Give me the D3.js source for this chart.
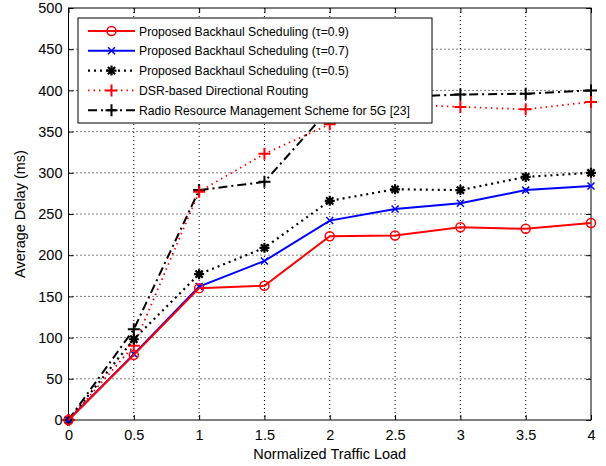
<!DOCTYPE html>
<html>
<head>
<meta charset="utf-8">
<script src="https://cdn.jsdelivr.net/npm/d3@7"></script>
<style>
  html, body { margin: 0; padding: 0; background: #fff; }
  svg { display: block; }
  text { font-family: "Liberation Sans", Arial, sans-serif; }
</style>
</head>
<body>
<svg id="chart" width="606" height="466"></svg>
<script>
const loads = [0, 0.5, 1, 1.5, 2, 2.5, 3, 3.5, 4];
const tau09 = [0, 79, 160, 163, 223, 224, 234, 232, 239];
const tau07 = [0, 80, 162, 193, 242, 256, 263, 279, 284];
const tau05 = [0, 98, 177, 209, 266, 280, 279, 295, 300];
const dsr   = [0, 90, 277, 323, 359, 383, 380, 377, 386];
const rrm   = [0, 110, 279, 289, 378, 392, 395, 396, 400];
const xTicks = [0, 0.5, 1, 1.5, 2, 2.5, 3, 3.5, 4];
const yTicks = [0, 50, 100, 150, 200, 250, 300, 350, 400, 450, 500];
const seriesNames = [
  "Proposed Backhaul Scheduling (\u03C4=0.9)",
  "Proposed Backhaul Scheduling (\u03C4=0.7)",
  "Proposed Backhaul Scheduling (\u03C4=0.5)",
  "DSR-based Directional Routing",
  "Radio Resource Management Scheme for 5G [23]"
];

const svg = d3.select("#chart");
const L = 68.5, R = 591, T = 8, B = 420;
const x = d3.scaleLinear().domain([0, 4]).range([L, R]);
const y = d3.scaleLinear().domain([0, 500]).range([B, T]);

// grid
const grid = svg.append("g");
grid.selectAll(".gx").data(xTicks.slice(1, -1)).join("line")
  .attr("x1", d => x(d)).attr("x2", d => x(d)).attr("y1", T).attr("y2", B)
  .attr("stroke", "#000").attr("stroke-width", 1).attr("stroke-dasharray", "1,3");
grid.selectAll(".gy").data(yTicks.slice(1, -1)).join("line")
  .attr("x1", L).attr("x2", R).attr("y1", d => y(d)).attr("y2", d => y(d))
  .attr("stroke", "#000").attr("stroke-width", 1).attr("stroke-dasharray", "1,3");

// axes
const fs = 14.5;
const xAxis = d3.axisBottom(x).tickValues(xTicks).tickSize(-5).tickPadding(8).tickFormat(d3.format("~g"));
const yAxis = d3.axisLeft(y).tickValues(yTicks).tickSize(-5).tickPadding(6);
const gx = svg.append("g").attr("transform", `translate(0,${B})`).call(xAxis);
const gy = svg.append("g").attr("transform", `translate(${L},0)`).call(yAxis);
const gxt = svg.append("g").attr("transform", `translate(0,${T})`).call(d3.axisTop(x).tickValues(xTicks).tickSize(-5).tickFormat(""));
const gyr = svg.append("g").attr("transform", `translate(${R},0)`).call(d3.axisRight(y).tickValues(yTicks).tickSize(-5).tickFormat(""));
[gx, gy, gxt, gyr].forEach(g => {
  g.select(".domain").remove();
  g.selectAll("line").attr("stroke", "#000");
  g.selectAll("text").attr("font-size", fs).attr("fill", "#000")
    .style("font-family", "'Liberation Sans', Arial, sans-serif");
});
gx.selectAll("text").attr("dy", null).attr("y", 20);
gy.selectAll("text").attr("x", -6);
svg.append("rect").attr("x", L).attr("y", T).attr("width", R - L).attr("height", B - T)
  .attr("fill", "none").attr("stroke", "#000").attr("stroke-width", 1);

// labels
svg.append("text").attr("x", (L + R) / 2).attr("y", 459).attr("text-anchor", "middle")
  .attr("font-size", 14.5).text("Normalized Traffic Load");
svg.append("text").attr("transform", `translate(25,${(T + B) / 2}) rotate(-90)`)
  .attr("text-anchor", "middle").attr("font-size", 14.5).text("Average Delay (ms)");

// markers
function marker(g, type, color, cx, cy) {
  if (type === "o") {
    g.append("circle").attr("cx", cx).attr("cy", cy).attr("r", 4.5)
      .attr("fill", "none").attr("stroke", color).attr("stroke-width", 1.5);
  } else if (type === "x") {
    const s = 3.5;
    g.append("path").attr("d", `M${cx - s},${cy - s}L${cx + s},${cy + s}M${cx - s},${cy + s}L${cx + s},${cy - s}`)
      .attr("stroke", color).attr("stroke-width", 1.5);
  } else if (type === "*") {
    const s = 5, d = 3.6;
    g.append("path").attr("d", `M${cx - s},${cy}L${cx + s},${cy}M${cx},${cy - s}L${cx},${cy + s}M${cx - d},${cy - d}L${cx + d},${cy + d}M${cx - d},${cy + d}L${cx + d},${cy - d}`)
      .attr("stroke", color).attr("stroke-width", 2.2);
  } else if (type === "+") {
    const s = 6;
    g.append("path").attr("d", `M${cx - s},${cy}L${cx + s},${cy}M${cx},${cy - s}L${cx},${cy + s}`)
      .attr("stroke", color).attr("stroke-width", 2);
  }
}

const series = [
  { vals: rrm,   color: "#000", dash: "9,4,2,4", w: 2,   m: "+" },
  { vals: dsr,   color: "#f00", dash: "1.5,4",   w: 1.8, m: "+" },
  { vals: tau05, color: "#000", dash: "2,4",     w: 2.2, m: "*" },
  { vals: tau07, color: "#00f", dash: null,      w: 2,   m: "x" },
  { vals: tau09, color: "#f00", dash: null,      w: 2,   m: "o" }
];
const line = d3.line().x((d, i) => x(loads[i])).y(d => y(d));
series.forEach(s => {
  const g = svg.append("g");
  g.append("path").datum(s.vals).attr("d", line).attr("fill", "none")
    .attr("stroke", s.color).attr("stroke-width", s.w)
    .attr("stroke-dasharray", s.dash);
  s.vals.forEach((v, i) => marker(g, s.m, s.color, x(loads[i]), y(v)));
});

// legend
const legendStyles = [
  { color: "#f00", dash: null, w: 2, m: "o" },
  { color: "#00f", dash: null, w: 2, m: "x" },
  { color: "#000", dash: "2,4", w: 2.2, m: "*" },
  { color: "#f00", dash: "1.5,4", w: 1.8, m: "+" },
  { color: "#000", dash: "9,4,2,4", w: 2, m: "+" }
];
const lg = svg.append("g");
lg.append("rect").attr("x", 78).attr("y", 18).attr("width", 354).attr("height", 105)
  .attr("fill", "#fff").attr("stroke", "#000").attr("stroke-width", 1);
seriesNames.forEach((name, i) => {
  const yy = 31 + i * 19.8;
  const st = legendStyles[i];
  lg.append("line").attr("x1", 88).attr("x2", 135).attr("y1", yy).attr("y2", yy)
    .attr("stroke", st.color).attr("stroke-width", st.w).attr("stroke-dasharray", st.dash);
  marker(lg, st.m, st.color, 111.5, yy);
  lg.append("text").attr("x", 139).attr("y", yy + 4.5).attr("font-size", 12.2).text(name);
});
</script>
</body>
</html>
